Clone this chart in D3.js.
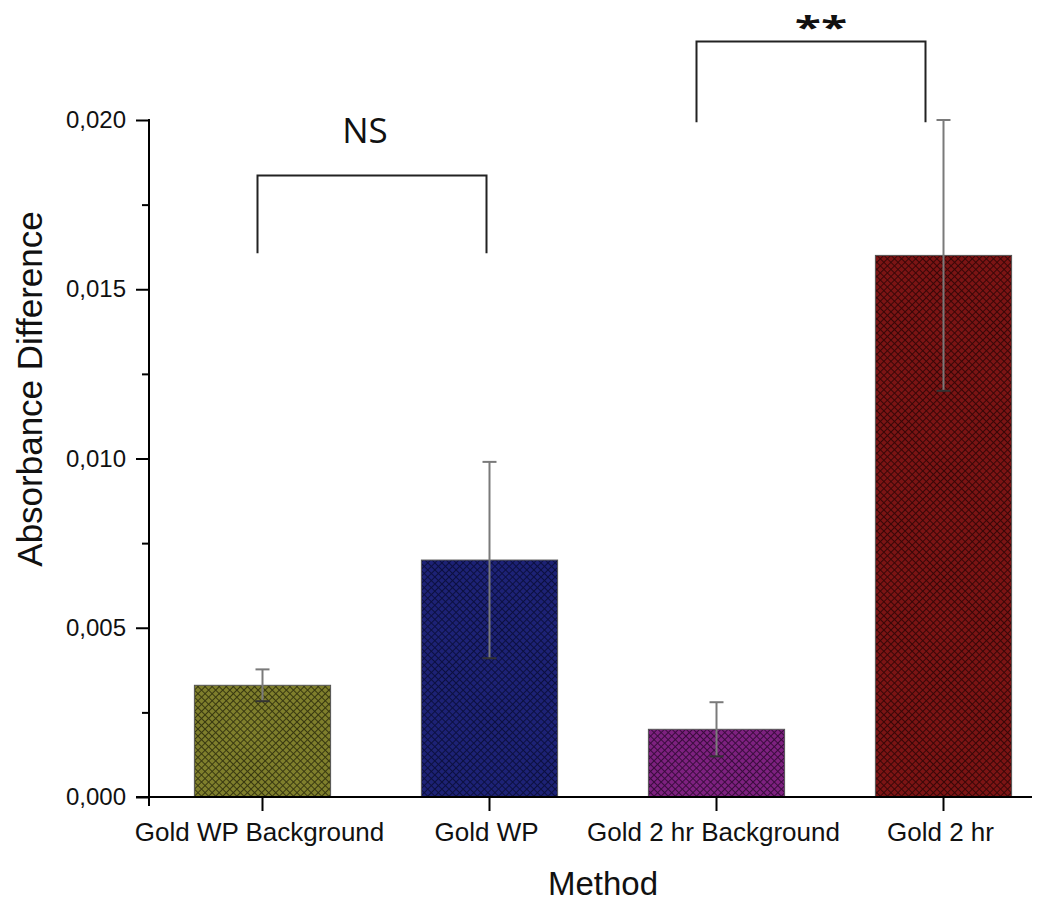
<!DOCTYPE html>
<html>
<head>
<meta charset="utf-8">
<script src="https://cdn.jsdelivr.net/npm/d3@7"></script>
<style>
  html, body { margin: 0; padding: 0; background: #fff; }
  svg { display: block; }
  text { font-family: "Liberation Sans", Arial, sans-serif; fill: #111; }
</style>
</head>
<body>
<svg id="chart" width="1038" height="901"></svg>
<script>
// Mean absorbance difference per method, with error bar half-widths
const categories = ["Gold WP Background", "Gold WP", "Gold 2 hr Background", "Gold 2 hr"];
const means = [0.0033, 0.0070, 0.0020, 0.0160];
const errors = [0.00047, 0.0029, 0.0008, 0.0040];
const yTicks = [0.000, 0.005, 0.010, 0.015, 0.020];
const yMinorTicks = [0.0025, 0.0075, 0.0125, 0.0175];
const barColors = ["#7f7f2c", "#1d2276", "#7e2180", "#7c1414"];
const lineColors = ["#383810", "#0c1040", "#3a0c3d", "#380707"];
// Significance brackets: pair of category indices, label, heights (in data units)
const brackets = [
  { from: 0, to: 1, label: "NS", top: 0.01836, bottom: 0.01606 },
  { from: 2, to: 3, label: "**", top: 0.02232, bottom: 0.01993 }
];

const svg = d3.select("#chart");
const x = d3.scaleBand().domain(categories).range([149, 1057]).paddingInner(0.4).paddingOuter(0.2);
const y = d3.scaleLinear().domain([0, 0.02]).range([797, 120]);

// Crosshatch fills
const defs = svg.append("defs");
categories.forEach((c, i) => {
  const p = defs.append("pattern")
    .attr("id", "hatch" + i)
    .attr("patternUnits", "userSpaceOnUse")
    .attr("width", 5).attr("height", 5)
    .attr("patternTransform", "rotate(45)");
  p.append("rect").attr("width", 5).attr("height", 5).attr("fill", barColors[i]);
  p.append("line").attr("x1", 0).attr("y1", 0.5).attr("x2", 5).attr("y2", 0.5)
    .attr("stroke", lineColors[i]).attr("stroke-width", 1);
  p.append("line").attr("x1", 0.5).attr("y1", 0).attr("x2", 0.5).attr("y2", 5)
    .attr("stroke", lineColors[i]).attr("stroke-width", 1);
});

// Bars
svg.append("g").selectAll("rect").data(categories).join("rect")
  .attr("x", d => x(d))
  .attr("y", (d, i) => y(means[i]))
  .attr("width", x.bandwidth())
  .attr("height", (d, i) => y(0) - y(means[i]))
  .attr("fill", (d, i) => `url(#hatch${i})`)
  .attr("stroke", "#555").attr("stroke-width", 1);

// Error bars
const eb = svg.append("g").attr("stroke", "#7a7a7a").attr("stroke-width", 2).attr("fill", "none");
categories.forEach((c, i) => {
  const cx = x(c) + x.bandwidth() / 2;
  const hi = y(means[i] + errors[i]);
  const lo = y(means[i] - errors[i]);
  eb.append("line").attr("x1", cx).attr("x2", cx).attr("y1", hi).attr("y2", lo);
  eb.append("line").attr("x1", cx - 7).attr("x2", cx + 7).attr("y1", hi).attr("y2", hi);
  eb.append("line").attr("x1", cx - 7).attr("x2", cx + 7).attr("y1", lo).attr("y2", lo)
    .attr("stroke", "#333");
});

// Y axis
const yAxis = d3.axisLeft(y).tickValues(yTicks).tickSize(13).tickPadding(10)
  .tickFormat(d => d3.format(".3f")(d).replace(".", ","));
const gy = svg.append("g").attr("transform", "translate(149,0)").call(yAxis);
gy.select(".domain").remove();
gy.selectAll(".tick line").attr("stroke", "#000").attr("stroke-width", 2);
gy.selectAll(".tick text").style("font-size", "24px").attr("fill", "#111");
const gyMinor = svg.append("g").attr("transform", "translate(149,0)")
  .call(d3.axisLeft(y).tickValues(yMinorTicks).tickSize(7).tickFormat(""));
gyMinor.select(".domain").remove();
gyMinor.selectAll(".tick line").attr("stroke", "#000").attr("stroke-width", 2);
svg.append("line").attr("x1", 149).attr("x2", 149).attr("y1", y(0.02) - 1).attr("y2", 806)
  .attr("stroke", "#000").attr("stroke-width", 2);

// X axis
const xAxis = d3.axisBottom(x).tickSize(14).tickPadding(12);
const gx = svg.append("g").attr("transform", "translate(0,797)").call(xAxis);
gx.select(".domain").remove();
gx.selectAll(".tick line").attr("stroke", "#000").attr("stroke-width", 2);
gx.selectAll(".tick text").style("font-size", "26px").attr("fill", "#111").attr("dx", -3);
svg.append("line").attr("x1", 136).attr("x2", 1032).attr("y1", 797).attr("y2", 797)
  .attr("stroke", "#000").attr("stroke-width", 2);

// Axis titles
svg.append("text").attr("x", 603).attr("y", 895).attr("text-anchor", "middle")
  .style("font-size", "33px").text("Method");
svg.append("text").attr("transform", "translate(42,389) rotate(-90)").attr("text-anchor", "middle")
  .style("font-size", "35px").text("Absorbance Difference");

// Significance brackets (arms sit slightly left of the bar centres)
const armShift = [[-5, -3], [-20, -18]];
brackets.forEach((b, k) => {
  const x1 = x(categories[b.from]) + x.bandwidth() / 2 + armShift[k][0];
  const x2 = x(categories[b.to]) + x.bandwidth() / 2 + armShift[k][1];
  const yt = y(b.top), yb = y(b.bottom);
  svg.append("path")
    .attr("d", `M${x1},${yb}V${yt}H${x2}V${yb}`)
    .attr("fill", "none").attr("stroke", "#222").attr("stroke-width", 2);
  const isNS = b.label === "NS";
  const g = svg.append("g")
    .attr("transform", isNS
      ? `translate(${(x1 + x2) / 2 - 7},${yt - 33})`
      : `translate(${(x1 + x2) / 2 + 10},${yt - 3}) scale(1,0.62)`);
  g.append("text")
    .attr("text-anchor", "middle")
    .style("font-family", "'Open Sans', 'Noto Sans', sans-serif")
    .style("font-size", isNS ? "35px" : "48px")
    .style("font-weight", isNS ? "400" : "700")
    .text(b.label);
});
</script>
</body>
</html>
